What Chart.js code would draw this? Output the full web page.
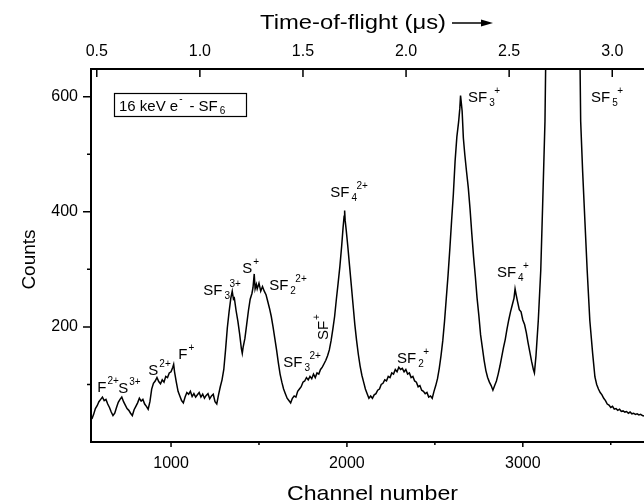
<!DOCTYPE html>
<html>
<head>
<meta charset="utf-8">
<script src="https://cdn.jsdelivr.net/npm/chart.js@4.4.1/dist/chart.umd.min.js"></script>
<style>
  html, body { margin: 0; padding: 0; background: #fff; }
  canvas { display: block; }
</style>
</head>
<body>
<canvas id="tof" width="644" height="504"></canvas>
<script>
// spectrum (channel, counts)
const channels = [
  550, 560, 570, 580, 590, 600, 610, 620, 630, 640, 650, 660, 670, 680, 690, 700, 710, 720, 730, 740,
  750, 760, 770, 780, 790, 800, 810, 820, 830, 840, 850, 860, 870, 880, 890, 900, 910, 920, 930, 940,
  950, 960, 970, 980, 990, 1000, 1010, 1015, 1020, 1030, 1040, 1050, 1060, 1070, 1080, 1090, 1100, 1110, 1120, 1130,
  1140, 1150, 1160, 1170, 1180, 1190, 1200, 1210, 1220, 1230, 1240, 1250, 1260, 1270, 1280, 1290, 1300, 1310, 1320, 1330,
  1340, 1348, 1355, 1360, 1370, 1380, 1390, 1400, 1405, 1410, 1420, 1430, 1440, 1450, 1460, 1466, 1473, 1478, 1485, 1490,
  1500, 1510, 1520, 1530, 1540, 1550, 1560, 1570, 1580, 1590, 1600, 1610, 1620, 1630, 1640, 1650, 1660, 1670, 1680, 1690,
  1700, 1710, 1720, 1730, 1740, 1750, 1760, 1770, 1780, 1790, 1800, 1810, 1820, 1830, 1840, 1850, 1860, 1870, 1880, 1890,
  1900, 1910, 1920, 1930, 1940, 1950, 1960, 1970, 1978, 1984, 1987, 1990, 1996, 2005, 2015, 2025, 2035, 2045, 2055, 2065,
  2075, 2085, 2095, 2105, 2115, 2125, 2135, 2145, 2155, 2165, 2175, 2185, 2195, 2205, 2215, 2225, 2235, 2245, 2255, 2265,
  2275, 2285, 2295, 2305, 2315, 2325, 2335, 2345, 2355, 2365, 2375, 2385, 2395, 2405, 2415, 2425, 2435, 2445, 2455, 2465,
  2475, 2485, 2495, 2505, 2515, 2525, 2535, 2545, 2555, 2565, 2575, 2585, 2595, 2605, 2615, 2625, 2635, 2642, 2646, 2650,
  2655, 2662, 2670, 2680, 2690, 2700, 2710, 2720, 2730, 2740, 2750, 2760, 2770, 2780, 2790, 2800, 2810, 2820, 2830, 2840,
  2850, 2860, 2870, 2880, 2890, 2900, 2910, 2920, 2930, 2940, 2950, 2956, 2962, 2970, 2980, 2990, 3000, 3010, 3020, 3030,
  3040, 3050, 3060, 3066, 3075, 3088, 3102, 3113, 3126, 3140, 3170, 3230, 3290, 3320, 3329, 3340, 3353, 3366, 3381, 3397,
  3410, 3420, 3430, 3440, 3450, 3460, 3470, 3480, 3490, 3500, 3510, 3520, 3530, 3540, 3550, 3560, 3570, 3580, 3590, 3600,
  3610, 3620, 3630, 3640, 3650, 3660, 3670, 3680, 3689
];
const counts = [
  40, 48, 58, 63, 70, 74, 78, 72, 74, 66, 60, 52, 46, 50, 60, 69, 74, 78, 70, 64,
  58, 55, 50, 46, 56, 62, 68, 76, 71, 74, 66, 62, 57, 70, 92, 102, 106, 112, 105, 101,
  108, 104, 114, 112, 120, 122, 130, 135, 122, 104, 88, 80, 72, 68, 78, 86, 83, 88, 79, 84,
  78, 82, 86, 78, 83, 76, 81, 84, 75, 80, 83, 70, 66, 82, 96, 108, 126, 160, 198, 226,
  250, 262, 248, 250, 228, 210, 188, 162, 154, 165, 180, 204, 228, 248, 258, 268, 292, 266, 274, 266,
  276, 262, 270, 262, 256, 244, 232, 218, 200, 180, 160, 138, 118, 104, 92, 84, 76, 72, 68, 76,
  80, 78, 88, 92, 96, 104, 106, 112, 108, 114, 110, 118, 112, 120, 118, 126, 130, 136, 142, 150,
  160, 176, 196, 218, 248, 276, 305, 340, 372, 392, 402, 385, 368, 340, 306, 272, 238, 204, 176, 152,
  132, 116, 104, 92, 84, 76, 80, 76, 82, 84, 90, 92, 100, 102, 108, 106, 114, 112, 120, 118,
  126, 122, 130, 126, 128, 122, 126, 118, 120, 112, 114, 106, 104, 96, 98, 90, 88, 84, 86, 78,
  80, 76, 88, 98, 110, 128, 150, 176, 210, 250, 290, 335, 384, 430, 488, 530, 556, 580, 602, 590,
  575, 528, 500, 470, 442, 405, 362, 322, 288, 250, 220, 186, 164, 142, 124, 112, 104, 98, 90, 98,
  106, 118, 132, 148, 164, 178, 196, 212, 226, 238, 250, 266, 256, 244, 230, 226, 212, 204, 190, 172,
  156, 140, 126, 120, 150, 211, 298, 414, 557, 900, 1800, 2600, 1800, 800, 557, 471, 384, 298, 211, 154,
  113, 100, 92, 86, 82, 76, 72, 66, 64, 60, 62, 57, 58, 55, 57, 53, 54, 52, 53, 50,
  52, 49, 50, 48, 49, 47, 48, 46, 45
];

const xTicks = [1000, 2000, 3000];
const xMinorTicks = [1500, 2500, 3500];
const yTicks = [200, 400, 600];
const yMinorTicks = [100, 300, 500];
const tofTicks = [0.5, 1.0, 1.5, 2.0, 2.5, 3.0];

// peak labels: anchored at (channel, counts) of the left end of the text baseline
const ions = [
  { c: 581, v: 87, main: 'F', sup: '2+' },
  { c: 700, v: 85, main: 'S', sup: '3+' },
  { c: 871, v: 117, main: 'S', sup: '2+' },
  { c: 1041, v: 144, main: 'F', sup: '+' },
  { c: 1183, v: 256, main: 'SF', sub: '3', sup: '3+' },
  { c: 1405, v: 294, main: 'S', sup: '+' },
  { c: 1558, v: 264, main: 'SF', sub: '2', sup: '2+' },
  { c: 1638, v: 131, main: 'SF', sub: '3', sup: '2+' },
  { c: 1893, v: 177, main: 'SF', sup: '+', rot: true },
  { c: 1905, v: 426, main: 'SF', sub: '4', sup: '2+' },
  { c: 2285, v: 138, main: 'SF', sub: '2', sup: '+' },
  { c: 2853, v: 287, main: 'SF', sub: '4', sup: '+' },
  { c: 2689, v: 590, main: 'SF', sub: '3', sup: '+' },
  { c: 3388, v: 590, main: 'SF', sub: '5', sup: '+' }
];

const FONT = '"Liberation Sans", Arial, Helvetica, sans-serif';
Chart.defaults.font.family = FONT;
Chart.defaults.color = '#000';

function drawIon(ctx, x, y, ion) {
  ctx.font = '15px ' + FONT;
  ctx.fillText(ion.main, x, y);
  const w = ctx.measureText(ion.main).width;
  ctx.font = '10px ' + FONT;
  if (ion.sub) ctx.fillText(ion.sub, x + w + 2, y + 4);
  if (ion.sup) ctx.fillText(ion.sup, x + w + (ion.sub ? 7 : 1), y - 8);
}

// the scanned titles are set a little wider than plain Arial
function wideText(ctx, text, x, y, size, width) {
  ctx.font = size + 'px ' + FONT;
  const k = width / ctx.measureText(text).width;
  ctx.save();
  ctx.translate(x, y);
  ctx.scale(k, 1);
  ctx.fillText(text, 0, 0);
  ctx.restore();
}

const extras = {
  id: 'extras',
  afterDraw(chart) {
    const { ctx, chartArea: a } = chart;
    const { x, y, x2 } = chart.scales;
    ctx.save();

    // tick marks (bottom/left outward, top inward)
    ctx.strokeStyle = '#000';
    ctx.lineWidth = 1.5;
    ctx.beginPath();
    xTicks.forEach(v => { const p = x.getPixelForValue(v); ctx.moveTo(p, a.bottom); ctx.lineTo(p, a.bottom + 5); });
    xMinorTicks.forEach(v => { const p = x.getPixelForValue(v); ctx.moveTo(p, a.bottom); ctx.lineTo(p, a.bottom + 3); });
    yTicks.forEach(v => { const p = y.getPixelForValue(v); ctx.moveTo(a.left - 8, p); ctx.lineTo(a.left, p); });
    yMinorTicks.forEach(v => { const p = y.getPixelForValue(v); ctx.moveTo(a.left - 4, p); ctx.lineTo(a.left, p); });
    tofTicks.forEach(v => { const p = x2.getPixelForValue(v); ctx.moveTo(p, a.top); ctx.lineTo(p, a.top + 8); });
    ctx.stroke();

    // axis titles
    ctx.fillStyle = '#000';
    ctx.textBaseline = 'alphabetic';
    ctx.textAlign = 'left';
    wideText(ctx, 'Channel number', 287, 500, 21, 171);

    ctx.save();
    ctx.translate(35, (a.top + a.bottom) / 2 + 4);
    ctx.rotate(-Math.PI / 2);
    ctx.textAlign = 'center';
    ctx.font = '19px ' + FONT;
    ctx.fillText('Counts', 0, 0);
    ctx.restore();

    wideText(ctx, 'Time-of-flight (\u03bcs)', 260, 29, 20, 186);
    const ax = 452;
    ctx.lineWidth = 1.5;
    ctx.beginPath();
    ctx.moveTo(ax, 23);
    ctx.lineTo(ax + 32, 23);
    ctx.stroke();
    ctx.beginPath();
    ctx.moveTo(ax + 41, 23);
    ctx.lineTo(ax + 29, 19.5);
    ctx.lineTo(ax + 29, 26.5);
    ctx.closePath();
    ctx.fill();

    // sample box
    ctx.lineWidth = 1.2;
    const bx = a.left + 23, by = a.top + 24;
    ctx.strokeRect(bx + 0.5, by + 0.5, 132, 23);
    ctx.font = '15px ' + FONT;
    let s = '16 keV e';
    ctx.fillText(s, bx + 5, by + 18);
    let cx = bx + 5 + ctx.measureText(s).width;
    ctx.font = '10px ' + FONT;
    ctx.fillText('-', cx + 1, by + 9);
    cx += 7;
    ctx.font = '15px ' + FONT;
    s = ' - SF';
    ctx.fillText(s, cx, by + 18);
    cx += ctx.measureText(s).width;
    ctx.font = '10px ' + FONT;
    ctx.fillText('6', cx + 2, by + 21);

    // peak labels
    ions.forEach(ion => {
      const px = x.getPixelForValue(ion.c);
      const py = y.getPixelForValue(ion.v);
      if (ion.rot) {
        ctx.save();
        ctx.translate(px, py);
        ctx.rotate(-Math.PI / 2);
        drawIon(ctx, 0, 0, ion);
        ctx.restore();
      } else {
        drawIon(ctx, px, py, ion);
      }
    });

    ctx.restore();
  }
};

new Chart(document.getElementById('tof'), {
  type: 'line',
  data: {
    datasets: [{
      data: channels.map((c, i) => ({ x: c, y: counts[i] })),
      borderColor: '#000',
      borderWidth: 1.5,
      pointRadius: 0,
      tension: 0,
      xAxisID: 'x',
      yAxisID: 'y'
    }]
  },
  options: {
    responsive: false,
    animation: false,
    layout: { padding: 0 },
    plugins: { legend: { display: false }, tooltip: { enabled: false } },
    scales: {
      x: {
        type: 'linear',
        position: 'bottom',
        min: 545,
        max: 3689,
        afterBuildTicks: s => { s.ticks = xTicks.map(v => ({ value: v })); },
        afterFit: s => { s.height = 62; },
        ticks: { font: { size: 16 }, color: '#000', padding: 12, maxRotation: 0, callback: v => String(v) },
        grid: { drawOnChartArea: false, drawTicks: false },
        border: { color: '#000', width: 2 }
      },
      x2: {
        type: 'linear',
        position: 'top',
        min: 0.472,
        max: 3.154,
        afterBuildTicks: s => { s.ticks = tofTicks.map(v => ({ value: v })); },
        afterFit: s => { s.height = 69; },
        ticks: { font: { size: 16 }, color: '#000', padding: 8, maxRotation: 0, callback: v => v.toFixed(1) },
        grid: { drawOnChartArea: false, drawTicks: false },
        border: { color: '#000', width: 2 }
      },
      y: {
        type: 'linear',
        position: 'left',
        min: 0,
        max: 648,
        afterBuildTicks: s => { s.ticks = yTicks.map(v => ({ value: v })); },
        afterFit: s => { s.width = 91; },
        ticks: { font: { size: 16 }, color: '#000', padding: 13, callback: v => String(v) },
        grid: { drawOnChartArea: false, drawTicks: false },
        border: { color: '#000', width: 2 }
      }
    }
  },
  plugins: [extras]
});
</script>
</body>
</html>
